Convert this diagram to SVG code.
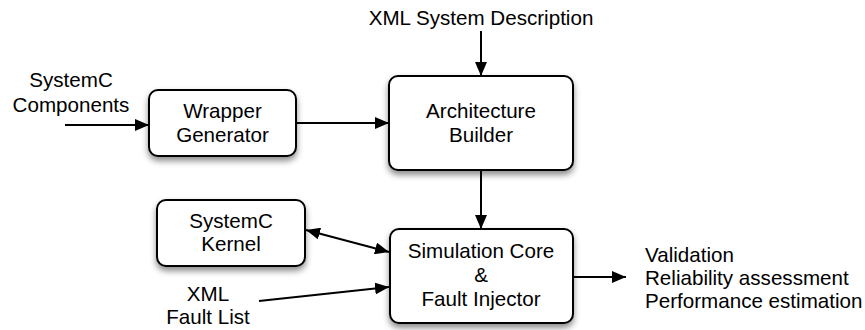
<svg xmlns="http://www.w3.org/2000/svg" width="865" height="330" viewBox="0 0 865 330">
  <defs>
    <style>
      .box { fill: #ffffff; stroke: #000000; stroke-width: 2; filter: url(#shadow); }
      .lbl { font-family: "Liberation Sans", Arial, Helvetica, sans-serif; font-size: 20.6px; fill: #000000; }
      .mid { text-anchor: middle; }
      .edge { fill: none; stroke: #000000; stroke-width: 2; }
    </style>
    <filter id="shadow" x="-20%" y="-20%" width="140%" height="150%">
      <feDropShadow dx="0" dy="4" stdDeviation="3" flood-color="#000000" flood-opacity="0.45"/>
    </filter>
    <marker id="arrow" viewBox="0 0 14 12" refX="14" refY="6" markerWidth="14" markerHeight="12" markerUnits="userSpaceOnUse" orient="auto">
      <path d="M0,0 L14,6 L0,12 Z" fill="#000000"/>
    </marker>
    <marker id="arrowStart" viewBox="0 0 14 12" refX="0" refY="6" markerWidth="14" markerHeight="12" markerUnits="userSpaceOnUse" orient="auto">
      <path d="M14,0 L0,6 L14,12 Z" fill="#000000"/>
    </marker>
  </defs>

  <!-- connectors -->
  <g id="connectors">
    <line class="edge" x1="65" y1="125" x2="149" y2="125" marker-end="url(#arrow)"/>
    <line class="edge" x1="296" y1="123" x2="389" y2="123" marker-end="url(#arrow)"/>
    <line class="edge" x1="481" y1="31" x2="481" y2="76" marker-end="url(#arrow)"/>
    <line class="edge" x1="481" y1="170" x2="481" y2="229" marker-end="url(#arrow)"/>
    <line class="edge" x1="306" y1="230" x2="389" y2="252" marker-start="url(#arrowStart)" marker-end="url(#arrow)"/>
    <line class="edge" x1="259" y1="301" x2="389" y2="287" marker-end="url(#arrow)"/>
    <line class="edge" x1="573" y1="277" x2="626" y2="277" marker-end="url(#arrow)"/>
  </g>

  <!-- free labels -->
  <g id="labels">
    <text class="lbl mid" x="71" y="87">SystemC</text>
    <text class="lbl mid" x="71" y="112">Components</text>
    <text class="lbl mid" x="481" y="25">XML System Description</text>
    <text class="lbl mid" x="208" y="301">XML</text>
    <text class="lbl mid" x="208" y="324">Fault List</text>
    <text class="lbl" x="645" y="262">Validation</text>
    <text class="lbl" x="645" y="285">Reliability assessment</text>
    <text class="lbl" x="645" y="308">Performance estimation</text>
  </g>

  <g id="wrapper-generator">
    <rect class="box" x="149" y="90" width="147" height="66" rx="9"/>
    <text class="lbl mid" x="222.5" y="118">Wrapper</text>
    <text class="lbl mid" x="222.5" y="142">Generator</text>
  </g>

  <g id="architecture-builder">
    <rect class="box" x="389" y="76" width="184" height="94" rx="9"/>
    <text class="lbl mid" x="481" y="118">Architecture</text>
    <text class="lbl mid" x="481" y="142">Builder</text>
  </g>

  <g id="systemc-kernel">
    <rect class="box" x="157" y="200" width="148" height="66" rx="9"/>
    <text class="lbl mid" x="231" y="228">SystemC</text>
    <text class="lbl mid" x="231" y="251">Kernel</text>
  </g>

  <g id="simulation-core">
    <rect class="box" x="390" y="229" width="183" height="94" rx="9"/>
    <text class="lbl mid" x="481" y="258">Simulation Core</text>
    <text class="lbl mid" x="481" y="282">&amp;</text>
    <text class="lbl mid" x="481" y="306">Fault Injector</text>
  </g>
</svg>
